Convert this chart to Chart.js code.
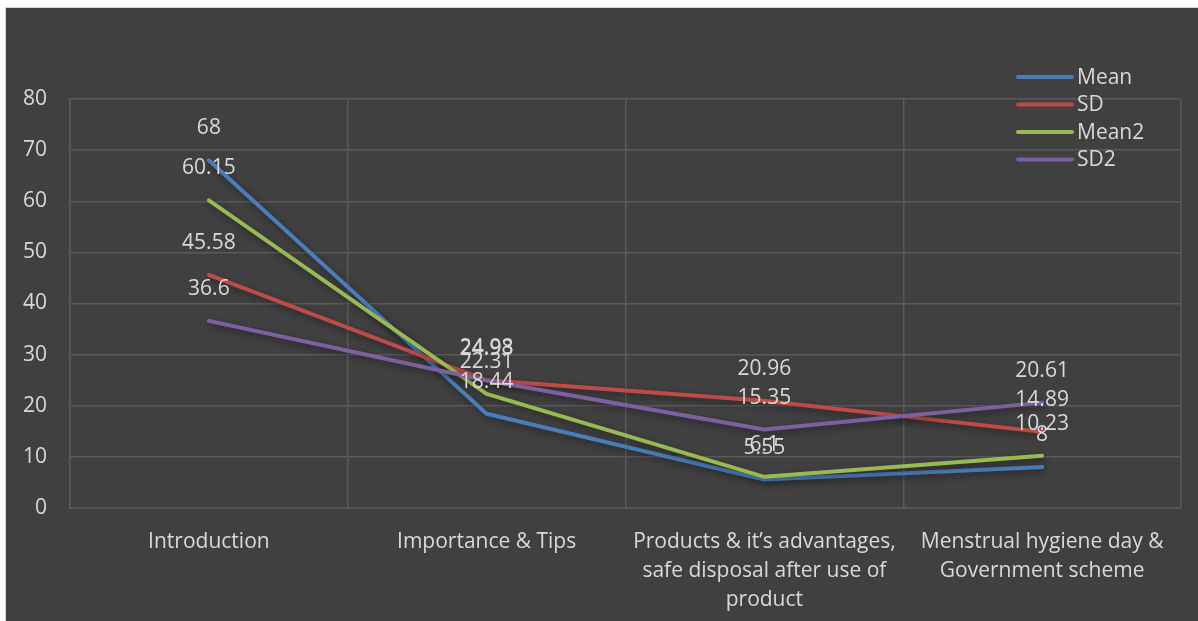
<!DOCTYPE html>
<html>
<head>
<meta charset="utf-8">
<script src="https://cdn.jsdelivr.net/npm/chart.js@4/dist/chart.umd.min.js"></script>
<style>
  html, body { margin: 0; padding: 0; background: #ffffff; }
  #frame {
    position: absolute; left: 5px; top: 7px; width: 1193px; height: 614px;
    background: #404040; border-left: 1px solid #d4d4d4; border-top: 1px solid #d4d4d4;
  }
  #wrap { position: absolute; left: 0; top: 0; width: 1192px; height: 613px; }
</style>
</head>
<body>
<div id="frame"><div id="wrap"><canvas id="chart"></canvas></div></div>
<script>
// Session topics
const categories = [
  'Introduction',
  'Importance & Tips',
  ['Products & it\u2019s advantages,', 'safe disposal after use of', 'product'],
  ['Menstrual hygiene day &', 'Government scheme']
];

// Scores per topic
const mean  = [68, 18.44, 5.55, 8];
const sd    = [45.58, 24.98, 20.96, 14.89];
const mean2 = [60.15, 22.31, 6.1, 10.23];
const sd2   = [36.6, 24.93, 15.35, 20.61];

// Value axis ticks
const yTicks = [0, 10, 20, 30, 40, 50, 60, 70, 80];

const textColor = '#d9d9d9';
const gridColor = '#5a5a5a';
const fontFamily = '"Open Sans", "DejaVu Sans", sans-serif';

// Value labels above every point
const valueLabels = {
  id: 'valueLabels',
  afterDatasetsDraw(chart) {
    const ctx = chart.ctx;
    ctx.save();
    ctx.font = '21px ' + fontFamily;
    ctx.fillStyle = textColor;
    ctx.textAlign = 'center';
    ctx.textBaseline = 'middle';
    chart.data.datasets.forEach((ds, i) => {
      chart.getDatasetMeta(i).data.forEach((pt, j) => {
        ctx.fillText(String(ds.data[j]), pt.x, pt.y - 32);
      });
    });
    ctx.restore();
  }
};

// Legend stacked in the upper right corner of the plot
const cornerLegend = {
  id: 'cornerLegend',
  afterDraw(chart) {
    const ctx = chart.ctx;
    const area = chart.chartArea;
    ctx.save();
    ctx.font = '21px ' + fontFamily;
    ctx.textBaseline = 'middle';
    ctx.textAlign = 'left';
    chart.data.datasets.forEach((ds, i) => {
      const y = area.top - 22 + i * 27.5;
      const x0 = area.right - 163;
      ctx.strokeStyle = ds.borderColor;
      ctx.lineWidth = 4;
      ctx.lineCap = 'round';
      ctx.beginPath();
      ctx.moveTo(x0, y);
      ctx.lineTo(x0 + 54, y);
      ctx.stroke();
      ctx.fillStyle = textColor;
      ctx.fillText(ds.label, x0 + 59, y + 1);
    });
    ctx.restore();
  }
};

// Soft drop shadow under each line
const lineShadow = {
  id: 'lineShadow',
  beforeDatasetDraw(chart) {
    const ctx = chart.ctx;
    ctx.save();
    ctx.shadowColor = 'rgba(0,0,0,0.45)';
    ctx.shadowBlur = 7;
    ctx.shadowOffsetX = 2;
    ctx.shadowOffsetY = 3;
  },
  afterDatasetDraw(chart) {
    chart.ctx.restore();
  }
};

function series(label, data, color, order) {
  return {
    label, data,
    borderColor: color, backgroundColor: color,
    borderWidth: 4, pointRadius: 0, pointHoverRadius: 0,
    tension: 0, fill: false, borderCapStyle: 'round', borderJoinStyle: 'round',
    order
  };
}

new Chart(document.getElementById('chart'), {
  type: 'line',
  data: {
    labels: categories,
    datasets: [
      series('Mean', mean, '#4a7ebb', 4),
      series('SD', sd, '#be4b48', 3),
      series('Mean2', mean2, '#98b954', 2),
      series('SD2', sd2, '#7d60a0', 1)
    ]
  },
  options: {
    responsive: true,
    maintainAspectRatio: false,
    animation: false,
    layout: { padding: { top: 91, right: 17, bottom: 0, left: 0 } },
    plugins: {
      legend: { display: false },
      tooltip: { enabled: false }
    },
    scales: {
      x: {
        offset: true,
        grid: { color: gridColor, lineWidth: 1.5, offset: true, drawTicks: false },
        border: { color: gridColor, width: 1.5 },
        ticks: {
          color: textColor,
          font: { family: fontFamily, size: 21, lineHeight: 1.38 },
          padding: 20,
          maxRotation: 0,
          autoSkip: false
        },
        afterFit(scale) { scale.height = 113; }
      },
      y: {
        min: 0,
        max: 80,
        afterBuildTicks(scale) { scale.ticks = yTicks.map(v => ({ value: v })); },
        grid: { color: gridColor, lineWidth: 1.5, drawTicks: false },
        border: { color: gridColor, width: 1.5 },
        ticks: {
          color: textColor,
          font: { family: fontFamily, size: 21 },
          padding: 23
        },
        afterFit(scale) { scale.width = 64; }
      }
    }
  },
  plugins: [lineShadow, valueLabels, cornerLegend]
});
</script>
</body>
</html>
